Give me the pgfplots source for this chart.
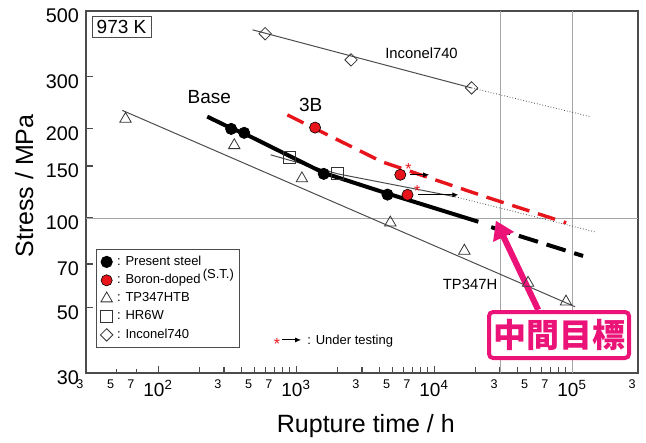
\documentclass[border=0pt]{standalone}
\usepackage{pgfplots}
\pgfplotsset{compat=1.18}
\usepackage{fontspec}
\setmainfont{Liberation Sans}
\newfontfamily\cjk{Noto Sans CJK JP}
\usetikzlibrary{arrows.meta}
\definecolor{bred}{HTML}{E8141C}
\definecolor{pinkmark}{HTML}{EB1377}
\definecolor{thinl}{gray}{0.3}
\newcommand{\fs}[1]{\fontsize{#1}{#1}\selectfont}
\newcommand{\sm}[1]{\raisebox{-2.5pt}{\fs{6.3}#1}\rule{6pt}{0pt}}
\newcommand{\dec}[1]{\fs{9.5}10\textsuperscript{#1}}

\begin{document}
\begin{tikzpicture}
\begin{axis}[
  name=ax,
  xmode=log, ymode=log,
  scale only axis,
  width=276pt, height=181pt,
  xmin=30, xmax=300000, ymin=30, ymax=500,
  clip=false,
  axis line style={black!70, line width=0.7pt},
  tick style={black!70, line width=0.6pt},
  xtick pos=bottom, ytick pos=left,
  tick align=inside,
  minor tick num=0,
  major tick length=3.5pt,
  xtick={100,1000,10000,100000},
  xticklabels={\dec{2},\dec{3},\dec{4},\dec{5}},
  extra x ticks={30,50,70,300,500,700,3000,5000,7000,30000,50000,70000,300000},
  extra x tick labels={\sm{3},\sm{5},\sm{7},\sm{3},\sm{5},\sm{7},\sm{3},\sm{5},\sm{7},\sm{3},\sm{5},\sm{7},\sm{3}},
  extra x tick style={/pgfplots/major tick length=2pt},
  ytick={30,50,70,100,150,200,300,500},
  yticklabels={30,50,70,100,150,200,300,500},
  yticklabel style={font=\fs{9.9}, yshift=-2.5pt},
  xlabel={Rupture time / h},
  ylabel={Stress / MPa},
  xlabel style={font=\fs{12.5}, at={(axis description cs:0.507,-0.1657)}, anchor=base},
  ylabel style={font=\fs{12.5}, at={(axis description cs:-0.096,0.5166)}, anchor=base},
  legend style={at={(rel axis cs:0.018,0.3425)}, anchor=north west, draw=black!70,
    line width=0.5pt, font=\fs{6.5}, inner xsep=2pt, inner ysep=2.5pt, row sep=1.8pt,
    nodes={inner sep=0.6pt}, column sep=1.5pt},
  legend cell align=left,
  legend image code/.code={\draw[mark repeat=2,mark phase=2,#1] plot coordinates {(0pt,0pt)(3pt,0pt)(6pt,0pt)};},
]
% reference grid lines
\draw[black!35, line width=0.4pt] (axis cs:30,100) -- (axis cs:300000,100);
\draw[black!35, line width=0.4pt] (axis cs:30000,30) -- (axis cs:30000,500);
\draw[black!35, line width=0.4pt] (axis cs:100000,30) -- (axis cs:100000,500);

% Inconel740 fit
\addplot[forget plot, thinl, line width=0.5pt] coordinates {(482,432) (18670,275)};
\addplot[forget plot, thinl, line width=0.4pt, densely dotted] coordinates {(18670,275) (135000,220)};
% HR6W fit
\addplot[forget plot, thinl, line width=0.5pt] coordinates {(653,163.5) (2003,141) (14250,118)};
\addplot[forget plot, thinl, line width=0.4pt, densely dotted] coordinates {(14250,118) (146500,89.8)};
% TP347HTB fit
\addplot[forget plot, thinl, line width=0.5pt] coordinates {(54.9,231) (105000,50.2)};

% Base
\addplot[forget plot, black, line width=2pt] coordinates {
  (227,220) (338,201) (420,193) (1585,142) (4590,121) (20900,97.2)};
\addplot[forget plot, black, line width=2pt, dash pattern=on 10pt off 4.5pt] coordinates {
  (25900,93.2) (120000,74.5)};
% 3B
\addplot[forget plot, bred, line width=1.7pt, dash pattern=on 9pt off 4.5pt] coordinates {
  (863,223) (4170,155) (23500,118) (90400,96.4)};

% markers
\addplot[forget plot, only marks, mark=triangle, mark size=3.3pt, mark options={black!80, line width=0.4pt, fill=white}] coordinates {
  (58,216) (356,176) (1101,136) (4810,96.5) (16550,77.5) (47900,60.4) (90200,52.2)};
\addplot[forget plot, only marks, mark=square, mark size=3pt, mark options={black!80, line width=0.4pt, fill=white}] coordinates {
  (897,160) (2003,141)};
\addplot[forget plot, only marks, mark=square, mark size=2.2pt, mark options={rotate=45, black!80, line width=0.4pt, fill=white}] coordinates {
  (596,419) (2500,342) (18670,275)};
\addplot[forget plot, only marks, mark=*, mark size=2.8pt, mark options={black, fill=black}] coordinates {
  (338,200) (420,194) (1585,141) (4590,120)};
\addplot[forget plot, only marks, mark=*, mark size=2.8pt, mark options={draw=black, line width=0.3pt, fill=bred}] coordinates {
  (1371,202) (5683,140) (6412,119.8)};

% under testing marks
\node[bred, font=\fs{8}] at (axis cs:6520,147) {*};
\node[bred, font=\fs{8}] at (axis cs:7540,123) {*};
\draw[-{Latex[length=3pt,width=2.5pt]}, line width=0.4pt] (axis cs:6710,140) -- (axis cs:9200,140);
\draw[-{Latex[length=3pt,width=2.5pt]}, line width=0.4pt] (axis cs:7700,119.8) -- (axis cs:14980,119.8);

% labels
\node[font=\fs{9.5}] at (axis cs:235,256.7) {Base};
\node[font=\fs{9.5}] at (axis cs:1273,241) {3B};
\node[font=\fs{7.4}] at (axis cs:8100,358.8) {Inconel740};
\node[font=\fs{7.4}] at (axis cs:18200,59.9) {TP347H};
\node[draw=black!70, line width=0.5pt, font=\fs{9.5}, inner sep=1.5pt, minimum width=29.5pt, minimum height=10.3pt] at (axis cs:54.3,442.5) {973 K};

% under testing key
\node[bred, font=\fs{8}] at (axis cs:727,37.6) {*};
\draw[-{Latex[length=3pt,width=2.5pt]}, line width=0.5pt] (axis cs:791,38.8) -- (axis cs:1087,38.8);
\node[anchor=base west, font=\fs{6.5}, inner sep=0pt] at (axis cs:1197,37.4) {: Under testing};

% target
\draw[pinkmark, line width=3pt, -{Triangle[width=11pt,length=9pt]}] (axis cs:56750,49) -- (axis cs:28000,98);
\node[draw=pinkmark, line width=2pt, rounded corners=2pt, fill=white, minimum width=70pt, minimum height=23pt, inner sep=0pt, text=pinkmark, font=\cjk\bfseries\fs{16.5}] at (axis cs:80350,40.3) {中間目標};

% legend
\addlegendimage{only marks, mark=*, mark size=2.8pt, mark options={black, fill=black}}
\addlegendentry{: Present steel}
\addlegendimage{only marks, mark=*, mark size=2.8pt, mark options={draw=black, line width=0.3pt, fill=bred}}
\addlegendentry{: Boron-doped\,\raisebox{2.5pt}[0pt][0pt]{(S.T.)}}
\addlegendimage{only marks, mark=triangle, mark size=3.3pt, mark options={black!80, line width=0.4pt}}
\addlegendentry{: TP347HTB}
\addlegendimage{only marks, mark=square, mark size=3pt, mark options={black!80, line width=0.4pt}}
\addlegendentry{: HR6W}
\addlegendimage{only marks, mark=square, mark size=2.2pt, mark options={rotate=45, black!80, line width=0.4pt}}
\addlegendentry{: Inconel740}
\end{axis}
\pgfresetboundingbox
\path ([shift={(-43pt,-35pt)}]ax.south west) rectangle ([shift={(4pt,5.5pt)}]ax.north east);
\end{tikzpicture}
\end{document}
